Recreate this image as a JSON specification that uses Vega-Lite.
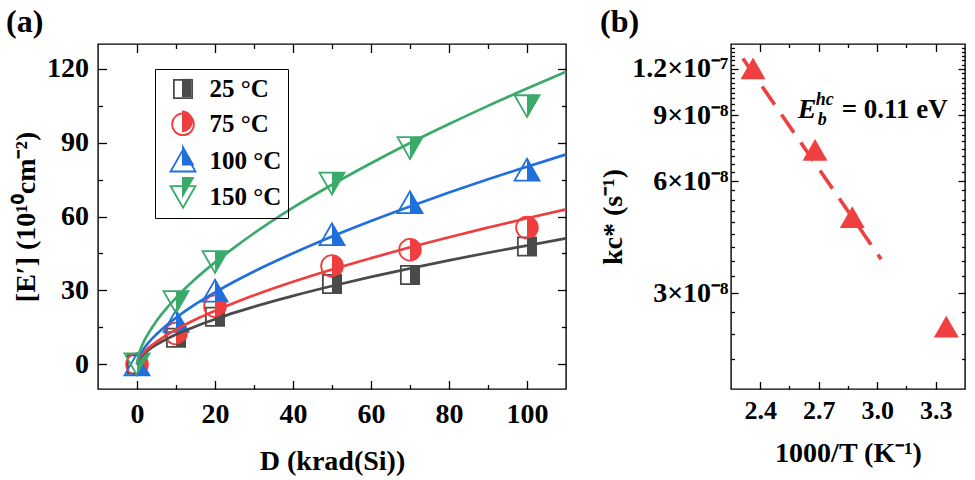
{
  "$schema": "https://vega.github.io/schema/vega-lite/v6.json",
  "background": "white",
  "padding": {"left": 5, "top": 5, "right": 0, "bottom": 0},
  "spacing": 25,
  "datasets": {
    "pts": [
      {"series": "25 °C", "D": 0, "E": 0}, {"series": "25 °C", "D": 10, "E": 10.8}, {"series": "25 °C", "D": 20, "E": 19.3}, {"series": "25 °C", "D": 50, "E": 32.6}, {"series": "25 °C", "D": 70, "E": 36.3}, {"series": "25 °C", "D": 100, "E": 47.8},
      {"series": "75 °C", "D": 0, "E": 0}, {"series": "75 °C", "D": 10, "E": 12.5}, {"series": "75 °C", "D": 20, "E": 23.6}, {"series": "75 °C", "D": 50, "E": 39.9}, {"series": "75 °C", "D": 70, "E": 46.5}, {"series": "75 °C", "D": 100, "E": 55.5},
      {"series": "100 °C", "D": 0, "E": 0}, {"series": "100 °C", "D": 10, "E": 17.6}, {"series": "100 °C", "D": 20, "E": 29.9}, {"series": "100 °C", "D": 50, "E": 52.8}, {"series": "100 °C", "D": 70, "E": 65.8}, {"series": "100 °C", "D": 100, "E": 79.0},
      {"series": "150 °C", "D": 0, "E": 0}, {"series": "150 °C", "D": 10, "E": 25.3}, {"series": "150 °C", "D": 20, "E": 41.5}, {"series": "150 °C", "D": 50, "E": 73.4}, {"series": "150 °C", "D": 70, "E": 87.8}, {"series": "150 °C", "D": 100, "E": 104.8}
    ],
    "fit": [
      {"series": "25 °C", "D": 0, "E": 0}, {"series": "25 °C", "D": 0.5, "E": 2.0}, {"series": "25 °C", "D": 1, "E": 3.0}, {"series": "25 °C", "D": 2, "E": 4.6}, {"series": "25 °C", "D": 3, "E": 5.9}, {"series": "25 °C", "D": 5, "E": 8.0}, {"series": "25 °C", "D": 7.5, "E": 10.2}, {"series": "25 °C", "D": 10, "E": 12.1}, {"series": "25 °C", "D": 15, "E": 15.4}, {"series": "25 °C", "D": 20, "E": 18.3}, {"series": "25 °C", "D": 25, "E": 21.0}, {"series": "25 °C", "D": 30, "E": 23.4}, {"series": "25 °C", "D": 40, "E": 27.8}, {"series": "25 °C", "D": 50, "E": 31.8}, {"series": "25 °C", "D": 60, "E": 35.5}, {"series": "25 °C", "D": 70, "E": 38.9}, {"series": "25 °C", "D": 80, "E": 42.2}, {"series": "25 °C", "D": 90, "E": 45.3}, {"series": "25 °C", "D": 100, "E": 48.2}, {"series": "25 °C", "D": 110, "E": 51.1},
      {"series": "75 °C", "D": 0, "E": 0}, {"series": "75 °C", "D": 0.5, "E": 2.2}, {"series": "75 °C", "D": 1, "E": 3.4}, {"series": "75 °C", "D": 2, "E": 5.2}, {"series": "75 °C", "D": 3, "E": 6.7}, {"series": "75 °C", "D": 5, "E": 9.1}, {"series": "75 °C", "D": 7.5, "E": 11.8}, {"series": "75 °C", "D": 10, "E": 14.1}, {"series": "75 °C", "D": 15, "E": 18.2}, {"series": "75 °C", "D": 20, "E": 21.7}, {"series": "75 °C", "D": 25, "E": 25.0}, {"series": "75 °C", "D": 30, "E": 28.0}, {"series": "75 °C", "D": 40, "E": 33.5}, {"series": "75 °C", "D": 50, "E": 38.5}, {"series": "75 °C", "D": 60, "E": 43.1}, {"series": "75 °C", "D": 70, "E": 47.5}, {"series": "75 °C", "D": 80, "E": 51.6}, {"series": "75 °C", "D": 90, "E": 55.5}, {"series": "75 °C", "D": 100, "E": 59.3}, {"series": "75 °C", "D": 110, "E": 62.9},
      {"series": "100 °C", "D": 0, "E": 0}, {"series": "100 °C", "D": 0.5, "E": 2.9}, {"series": "100 °C", "D": 1, "E": 4.5}, {"series": "100 °C", "D": 2, "E": 6.9}, {"series": "100 °C", "D": 3, "E": 8.9}, {"series": "100 °C", "D": 5, "E": 12.2}, {"series": "100 °C", "D": 7.5, "E": 15.8}, {"series": "100 °C", "D": 10, "E": 18.9}, {"series": "100 °C", "D": 15, "E": 24.4}, {"series": "100 °C", "D": 20, "E": 29.2}, {"series": "100 °C", "D": 25, "E": 33.6}, {"series": "100 °C", "D": 30, "E": 37.7}, {"series": "100 °C", "D": 40, "E": 45.1}, {"series": "100 °C", "D": 50, "E": 51.9}, {"series": "100 °C", "D": 60, "E": 58.2}, {"series": "100 °C", "D": 70, "E": 64.1}, {"series": "100 °C", "D": 80, "E": 69.7}, {"series": "100 °C", "D": 90, "E": 75.1}, {"series": "100 °C", "D": 100, "E": 80.2}, {"series": "100 °C", "D": 110, "E": 85.2},
      {"series": "150 °C", "D": 0, "E": 0}, {"series": "150 °C", "D": 0.5, "E": 4.2}, {"series": "150 °C", "D": 1, "E": 6.5}, {"series": "150 °C", "D": 2, "E": 10.0}, {"series": "150 °C", "D": 3, "E": 12.8}, {"series": "150 °C", "D": 5, "E": 17.6}, {"series": "150 °C", "D": 7.5, "E": 22.6}, {"series": "150 °C", "D": 10, "E": 27.0}, {"series": "150 °C", "D": 15, "E": 34.7}, {"series": "150 °C", "D": 20, "E": 41.4}, {"series": "150 °C", "D": 25, "E": 47.5}, {"series": "150 °C", "D": 30, "E": 53.2}, {"series": "150 °C", "D": 40, "E": 63.6}, {"series": "150 °C", "D": 50, "E": 72.9}, {"series": "150 °C", "D": 60, "E": 81.6}, {"series": "150 °C", "D": 70, "E": 89.8}, {"series": "150 °C", "D": 80, "E": 97.5}, {"series": "150 °C", "D": 90, "E": 104.9}, {"series": "150 °C", "D": 100, "E": 111.9}, {"series": "150 °C", "D": 110, "E": 118.7}
    ],
    "kc": [
      {"invT": 2.363, "k": 1.205e-7},
      {"invT": 2.681, "k": 7.28e-8},
      {"invT": 2.872, "k": 4.8e-8},
      {"invT": 3.354, "k": 2.44e-8}
    ],
    "kfit": [
      {"invT": 2.311, "k": 1.28e-7},
      {"invT": 3.02, "k": 3.7e-8}
    ]
  },
  "hconcat": [
    {
      "width": 468,
      "height": 345,
      "title": {"text": "(a)", "anchor": "start", "frame": "group", "dx": -92, "offset": -21, "baseline": "alphabetic", "fontSize": 32, "font": "Liberation Serif", "fontWeight": "bold", "color": "black"},
      "resolve": {
        "scale": {"shape": "independent", "stroke": "independent", "fill": "independent"},
        "axis": {"x": "independent", "y": "independent"}
      },
      "layer": [
        {
          "data": {"name": "pts"},
          "mark": {"type": "point", "filled": false, "opacity": 1, "strokeWidth": 1.8, "size": 625},
          "encoding": {
            "x": {"field": "D", "type": "quantitative", "scale": {"domain": [-10, 110], "nice": false, "zero": false},
              "axis": {"orient": "bottom", "values": [0, 20, 40, 60, 80, 100], "tickSize": -8.5, "labelPadding": 20, "labelFontSize": 28, "labelFlush": false, "labelOverlap": false, "title": "D (krad(Si))", "titleFontSize": 28, "titlePadding": 19}},
            "y": {"field": "E", "type": "quantitative", "scale": {"domain": [-10, 130], "nice": false, "zero": false},
              "axis": {"orient": "left", "values": [0, 30, 60, 90, 120], "tickSize": -8.5, "labelPadding": 18, "labelFontSize": 28, "labelFlush": false, "labelOverlap": false, "title": "[E′] (10¹⁰cm⁻²)", "titleFontSize": 28, "titlePadding": 6}},
            "shape": {"field": "series", "type": "nominal",
              "scale": {"domain": ["25 °C", "75 °C", "100 °C", "150 °C"], "range": ["M-0.73,-0.73H0.73V0.73H-0.73Z", "M0,-0.87A0.87,0.87,0,1,1,0,0.87A0.87,0.87,0,1,1,0,-0.87Z", "M0,-0.87L1,0.87H-1Z", "M-1,-0.87H1L0,0.87Z"]},
              "legend": {"orient": "none", "legendX": 57, "legendY": 25, "title": null, "padding": 6.5, "symbolOffset": 8, "labelOffset": 13, "rowPadding": 7.3, "symbolSize": 625, "symbolStrokeWidth": 1.8, "labelFontSize": 25, "labelFont": "Liberation Serif", "labelFontWeight": "bold", "labelColor": "black", "strokeColor": "black"}},
            "stroke": {"field": "series", "type": "nominal",
              "scale": {"domain": ["25 °C", "75 °C", "100 °C", "150 °C"], "range": ["#4a4a4a", "#ee3e3e", "#1f6fdd", "#3aaa6a"]},
              "legend": {"orient": "none", "legendX": 57, "legendY": 25, "title": null, "padding": 6.5, "symbolOffset": 8, "labelOffset": 13, "rowPadding": 7.3, "symbolSize": 625, "symbolStrokeWidth": 1.8, "labelFontSize": 25, "labelFont": "Liberation Serif", "labelFontWeight": "bold", "labelColor": "black", "strokeColor": "black"}}
          }
        },
        {
          "data": {"name": "pts"},
          "mark": {"type": "point", "filled": true, "opacity": 1, "strokeWidth": 0, "size": 625},
          "encoding": {
            "x": {"field": "D", "type": "quantitative", "scale": {"domain": [-10, 110], "nice": false, "zero": false},
              "axis": {"orient": "bottom", "values": [10, 30, 50, 70, 90], "tickSize": -4.5, "labels": false, "title": null}},
            "y": {"field": "E", "type": "quantitative", "scale": {"domain": [-10, 130], "nice": false, "zero": false},
              "axis": {"orient": "left", "values": [15, 45, 75, 105], "tickSize": -4.5, "labels": false, "title": null}},
            "shape": {"field": "series", "type": "nominal",
              "scale": {"domain": ["25 °C", "75 °C", "100 °C", "150 °C"], "range": ["M0,-0.73H0.73V0.73H0Z", "M0,-0.87A0.87,0.87,0,0,1,0,0.87Z", "M0,-0.87L1,0.87H0Z", "M0,-0.87H1L0,0.87Z"]},
              "legend": {"orient": "none", "legendX": 57, "legendY": 25, "title": null, "padding": 6.5, "symbolOffset": 8, "labelOffset": 13, "rowPadding": 7.3, "symbolSize": 625, "symbolStrokeWidth": 0, "labelFontSize": 25, "labelFont": "Liberation Serif", "labelFontWeight": "bold", "labelExpr": "''"}},
            "fill": {"field": "series", "type": "nominal",
              "scale": {"domain": ["25 °C", "75 °C", "100 °C", "150 °C"], "range": ["#4a4a4a", "#ee3e3e", "#1f6fdd", "#3aaa6a"]},
              "legend": {"orient": "none", "legendX": 57, "legendY": 25, "title": null, "padding": 6.5, "symbolOffset": 8, "labelOffset": 13, "rowPadding": 7.3, "symbolSize": 625, "symbolStrokeWidth": 0, "labelFontSize": 25, "labelFont": "Liberation Serif", "labelFontWeight": "bold", "labelExpr": "''"}}
          }
        },
        {
          "data": {"name": "fit"},
          "transform": [{"filter": "datum.series === '25 °C' || datum.series === '75 °C'"}],
          "mark": {"type": "line", "strokeWidth": 2.7, "interpolate": "monotone"},
          "encoding": {
            "x": {"field": "D", "type": "quantitative", "scale": {"domain": [-10, 110], "nice": false, "zero": false},
              "axis": {"orient": "top", "values": [0, 20, 40, 60, 80, 100], "tickSize": -8.5, "labels": false, "title": null}},
            "y": {"field": "E", "type": "quantitative", "scale": {"domain": [-10, 130], "nice": false, "zero": false},
              "axis": {"orient": "right", "values": [0, 30, 60, 90, 120], "tickSize": -8.5, "labels": false, "title": null}},
            "color": {"field": "series", "type": "nominal", "legend": null,
              "scale": {"domain": ["25 °C", "75 °C", "100 °C", "150 °C"], "range": ["#4a4a4a", "#ee3e3e", "#1f6fdd", "#3aaa6a"]}}
          }
        },
        {
          "data": {"name": "fit"},
          "transform": [{"filter": "datum.series === '100 °C' || datum.series === '150 °C'"}],
          "mark": {"type": "line", "strokeWidth": 2.7, "interpolate": "monotone"},
          "encoding": {
            "x": {"field": "D", "type": "quantitative", "scale": {"domain": [-10, 110], "nice": false, "zero": false},
              "axis": {"orient": "top", "values": [10, 30, 50, 70, 90], "tickSize": -4.5, "labels": false, "title": null}},
            "y": {"field": "E", "type": "quantitative", "scale": {"domain": [-10, 130], "nice": false, "zero": false},
              "axis": {"orient": "right", "values": [15, 45, 75, 105], "tickSize": -4.5, "labels": false, "title": null}},
            "color": {"field": "series", "type": "nominal", "legend": null,
              "scale": {"domain": ["25 °C", "75 °C", "100 °C", "150 °C"], "range": ["#4a4a4a", "#ee3e3e", "#1f6fdd", "#3aaa6a"]}}
          }
        }
      ]
    },
    {
      "width": 234,
      "height": 345,
      "title": {"text": "(b)", "anchor": "start", "frame": "group", "dx": -131, "offset": -21, "baseline": "alphabetic", "fontSize": 32, "font": "Liberation Serif", "fontWeight": "bold", "color": "black"},
      "resolve": {"axis": {"x": "independent", "y": "independent"}},
      "layer": [
        {
          "data": {"name": "kfit"},
          "mark": {"type": "line", "strokeWidth": 3.6, "strokeDash": [22, 12], "color": "#ee4040"},
          "encoding": {
            "x": {"field": "invT", "type": "quantitative", "scale": {"domain": [2.25, 3.45], "nice": false, "zero": false},
              "axis": {"orient": "bottom", "values": [2.4, 2.7, 3.0, 3.3], "format": ".1f", "tickSize": -7.5, "labelPadding": 16, "labelFontSize": 26, "labelFlush": false, "labelOverlap": false, "title": "1000/T (K⁻¹)", "titleFontSize": 28, "titlePadding": 16}},
            "y": {"field": "k", "type": "quantitative", "scale": {"type": "log", "domain": [1.66e-8, 1.4e-7], "nice": false},
              "axis": {"orient": "left", "values": [3e-8, 6e-8, 9e-8, 1.2e-7], "labelExpr": "datum.value < 4e-8 ? '3×10⁻⁸' : datum.value < 7e-8 ? '6×10⁻⁸' : datum.value < 1e-7 ? '9×10⁻⁸' : '1.2×10⁻⁷'", "tickSize": -7, "labelPadding": 10, "labelFontSize": 28, "labelFlush": false, "labelOverlap": false, "title": "kc* (s⁻¹)", "titleFontSize": 28, "titlePadding": 4}}
          }
        },
        {
          "data": {"name": "kc"},
          "mark": {"type": "point", "filled": true, "opacity": 1, "size": 625, "shape": "M0,-0.87L1,0.87H-1Z", "color": "#ee4040", "strokeWidth": 0},
          "encoding": {
            "x": {"field": "invT", "type": "quantitative", "scale": {"domain": [2.25, 3.45], "nice": false, "zero": false},
              "axis": {"orient": "bottom", "values": [2.55, 2.85, 3.15], "tickSize": -3.5, "labels": false, "title": null}},
            "y": {"field": "k", "type": "quantitative", "scale": {"type": "log", "domain": [1.66e-8, 1.4e-7], "nice": false},
              "axis": {"orient": "left", "values": [2e-8, 2.3333e-8, 2.6667e-8, 3.3333e-8, 3.6667e-8, 4e-8, 4.3333e-8, 4.6667e-8, 5e-8, 5.3333e-8, 5.6667e-8, 6.3333e-8, 6.6667e-8, 7e-8, 7.3333e-8, 7.6667e-8, 8e-8, 8.3333e-8, 8.6667e-8, 9.3333e-8, 9.6667e-8, 1e-7, 1.03333e-7, 1.06667e-7, 1.1e-7, 1.13333e-7, 1.16667e-7, 1.23333e-7, 1.26667e-7, 1.3e-7, 1.33333e-7, 1.36667e-7], "tickSize": -3.5, "labels": false, "title": null}}
          }
        },
        {
          "data": {"values": [{"t": "E"}]},
          "mark": {"type": "text", "align": "left", "baseline": "alphabetic", "font": "Liberation Serif", "fontWeight": "bold", "fontStyle": "italic", "fontSize": 28, "color": "black"},
          "encoding": {
            "x": {"datum": 2.592, "type": "quantitative", "scale": {"domain": [2.25, 3.45], "nice": false, "zero": false},
              "axis": {"orient": "top", "values": [2.4, 2.7, 3.0, 3.3], "tickSize": -7.5, "labels": false, "title": null}},
            "y": {"datum": 8.84e-8, "type": "quantitative", "scale": {"type": "log", "domain": [1.66e-8, 1.4e-7], "nice": false},
              "axis": {"orient": "right", "values": [3e-8, 6e-8, 9e-8, 1.2e-7], "tickSize": -7, "labels": false, "title": null}},
            "text": {"field": "t"}
          }
        },
        {
          "data": {"values": [{"t": "hc"}]},
          "mark": {"type": "text", "align": "left", "baseline": "alphabetic", "font": "Liberation Serif", "fontWeight": "bold", "fontStyle": "italic", "fontSize": 18, "color": "black", "dx": 18, "dy": -13},
          "encoding": {
            "x": {"datum": 2.592, "type": "quantitative", "scale": {"domain": [2.25, 3.45], "nice": false, "zero": false},
              "axis": {"orient": "top", "values": [2.55, 2.85, 3.15], "tickSize": -3.5, "labels": false, "title": null}},
            "y": {"datum": 8.84e-8, "type": "quantitative", "scale": {"type": "log", "domain": [1.66e-8, 1.4e-7], "nice": false},
              "axis": {"orient": "right", "values": [2e-8, 2.3333e-8, 2.6667e-8, 3.3333e-8, 3.6667e-8, 4e-8, 4.3333e-8, 4.6667e-8, 5e-8, 5.3333e-8, 5.6667e-8, 6.3333e-8, 6.6667e-8, 7e-8, 7.3333e-8, 7.6667e-8, 8e-8, 8.3333e-8, 8.6667e-8, 9.3333e-8, 9.6667e-8, 1e-7, 1.03333e-7, 1.06667e-7, 1.1e-7, 1.13333e-7, 1.16667e-7, 1.23333e-7, 1.26667e-7, 1.3e-7, 1.33333e-7, 1.36667e-7], "tickSize": -3.5, "labels": false, "title": null}},
            "text": {"field": "t"}
          }
        },
        {
          "data": {"values": [{"t": "b"}]},
          "mark": {"type": "text", "align": "left", "baseline": "alphabetic", "font": "Liberation Serif", "fontWeight": "bold", "fontStyle": "italic", "fontSize": 18, "color": "black", "dx": 20, "dy": 7},
          "encoding": {
            "x": {"datum": 2.592, "type": "quantitative", "axis": null},
            "y": {"datum": 8.84e-8, "type": "quantitative", "axis": null},
            "text": {"field": "t"}
          }
        },
        {
          "data": {"values": [{"t": "= 0.11 eV"}]},
          "mark": {"type": "text", "align": "left", "baseline": "alphabetic", "font": "Liberation Serif", "fontWeight": "bold", "fontSize": 27, "color": "black", "dx": 44},
          "encoding": {
            "x": {"datum": 2.592, "type": "quantitative", "axis": null},
            "y": {"datum": 8.84e-8, "type": "quantitative", "axis": null},
            "text": {"field": "t"}
          }
        }
      ]
    }
  ],
  "config": {
    "view": {"stroke": "black", "strokeWidth": 1.4},
    "font": "Liberation Serif",
    "axis": {"domain": false, "grid": false, "labelFont": "Liberation Serif", "labelFontWeight": "bold", "labelColor": "black", "titleFont": "Liberation Serif", "titleFontWeight": "bold", "titleColor": "black", "tickColor": "black", "tickWidth": 1.3}
  }
}
